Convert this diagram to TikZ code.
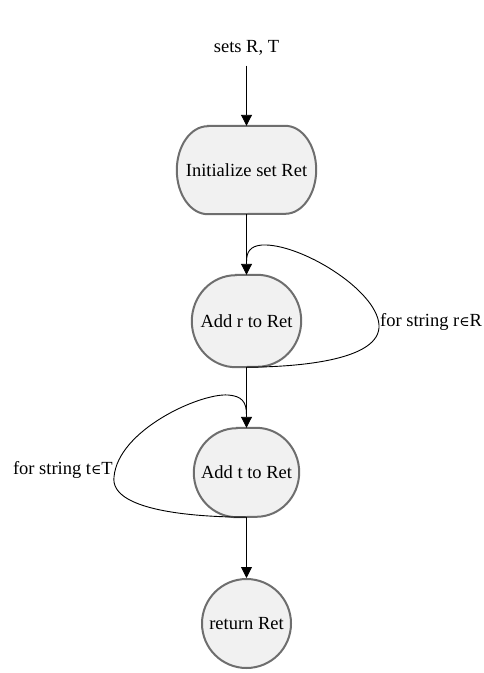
\documentclass[tikz,border=0pt]{standalone}
\usepackage{fontspec}
\setmainfont{Liberation Serif}
\newfontfamily\symfont{DejaVu Serif}
\usetikzlibrary{arrows.meta,backgrounds}

\definecolor{stepfill}{HTML}{F1F1F1}
\definecolor{stepedge}{HTML}{6E6E6E}

\tikzset{
  txt/.style={font=\fontsize{18.5}{21}\selectfont, inner sep=0pt},
  stepframe/.style={fill=stepfill, draw=stepedge, line width=2pt},
  flow/.style={line width=0.9pt, -{Triangle[length=11pt,width=11pt]}},
  loopline/.style={line width=0.9pt},
}
\newcommand{\elem}{{\symfont\fontsize{14}{14}\selectfont ∈}}
% rounded frame behind a node: #1 node, #2 horizontal radius, #3 vertical radius
\newcommand{\stepoutline}[3]{%
  \begin{scope}[on background layer]
    \draw[stepframe]
      ([xshift=#2]#1.north west) -- ([xshift=-#2]#1.north east)
      arc[start angle=90, end angle=-90, x radius=#2, y radius=#3]
      -- ([xshift=#2]#1.south west)
      arc[start angle=270, end angle=90, x radius=#2, y radius=#3]
      -- cycle;
  \end{scope}}

\begin{document}
\begin{tikzpicture}[x=1pt,y=-1pt]
\useasboundingbox (0,0) rectangle (483,673);

% input label
\node[txt] (in) at (246.5,48) {sets R, T};

% steps
\node[txt, minimum width=139pt, minimum height=88pt] (init) at (246.5,170) {Initialize set Ret};
\stepoutline{init}{31pt}{44pt}
\node[txt, minimum width=109pt, minimum height=92pt] (addr) at (246.5,321) {Add r to Ret};
\stepoutline{addr}{44pt}{46pt}
\node[txt, minimum width=105pt, minimum height=89pt] (addt) at (246.5,472.5) {Add t to Ret};
\stepoutline{addt}{43pt}{44.5pt}
\node[txt, circle, fill=stepfill, draw=stepedge, line width=2pt, minimum size=89pt] (ret) at (246.5,623.5) {return Ret};

% loop labels
\node[txt, anchor=west] (lr) at (380,322) {for string r\elem R};
\node[txt, anchor=east] (lt) at (113,470) {for string t\elem T};

% straight connectors
\draw[flow] ([yshift=-10pt]in.south) -- (init.north);
\draw[flow] (init.south) -- (addr.north);
\draw[flow] (addr.south) -- (addt.north);
\draw[flow] (addt.south) -- (ret.north);

% loop over R
\coordinate (rr) at (379,325);
\coordinate (rt) at (262,245);
\draw[loopline] (addr.south) .. controls (300,367) and (381,360) .. (rr)
  .. controls (377,290) and (300,243) .. (rt)
  .. controls (250,246) and (246.5,252) .. ([yshift=13pt]addr.north);

% loop over T
\coordinate (tl) at (114,477);
\coordinate (tt) at (228,395);
\draw[loopline] (addt.south) .. controls (190,517) and (110,510) .. (tl)
  .. controls (118,430) and (200,393) .. (tt)
  .. controls (242,396) and (246.5,402) .. ([yshift=13pt]addt.north);
\end{tikzpicture}
\end{document}
